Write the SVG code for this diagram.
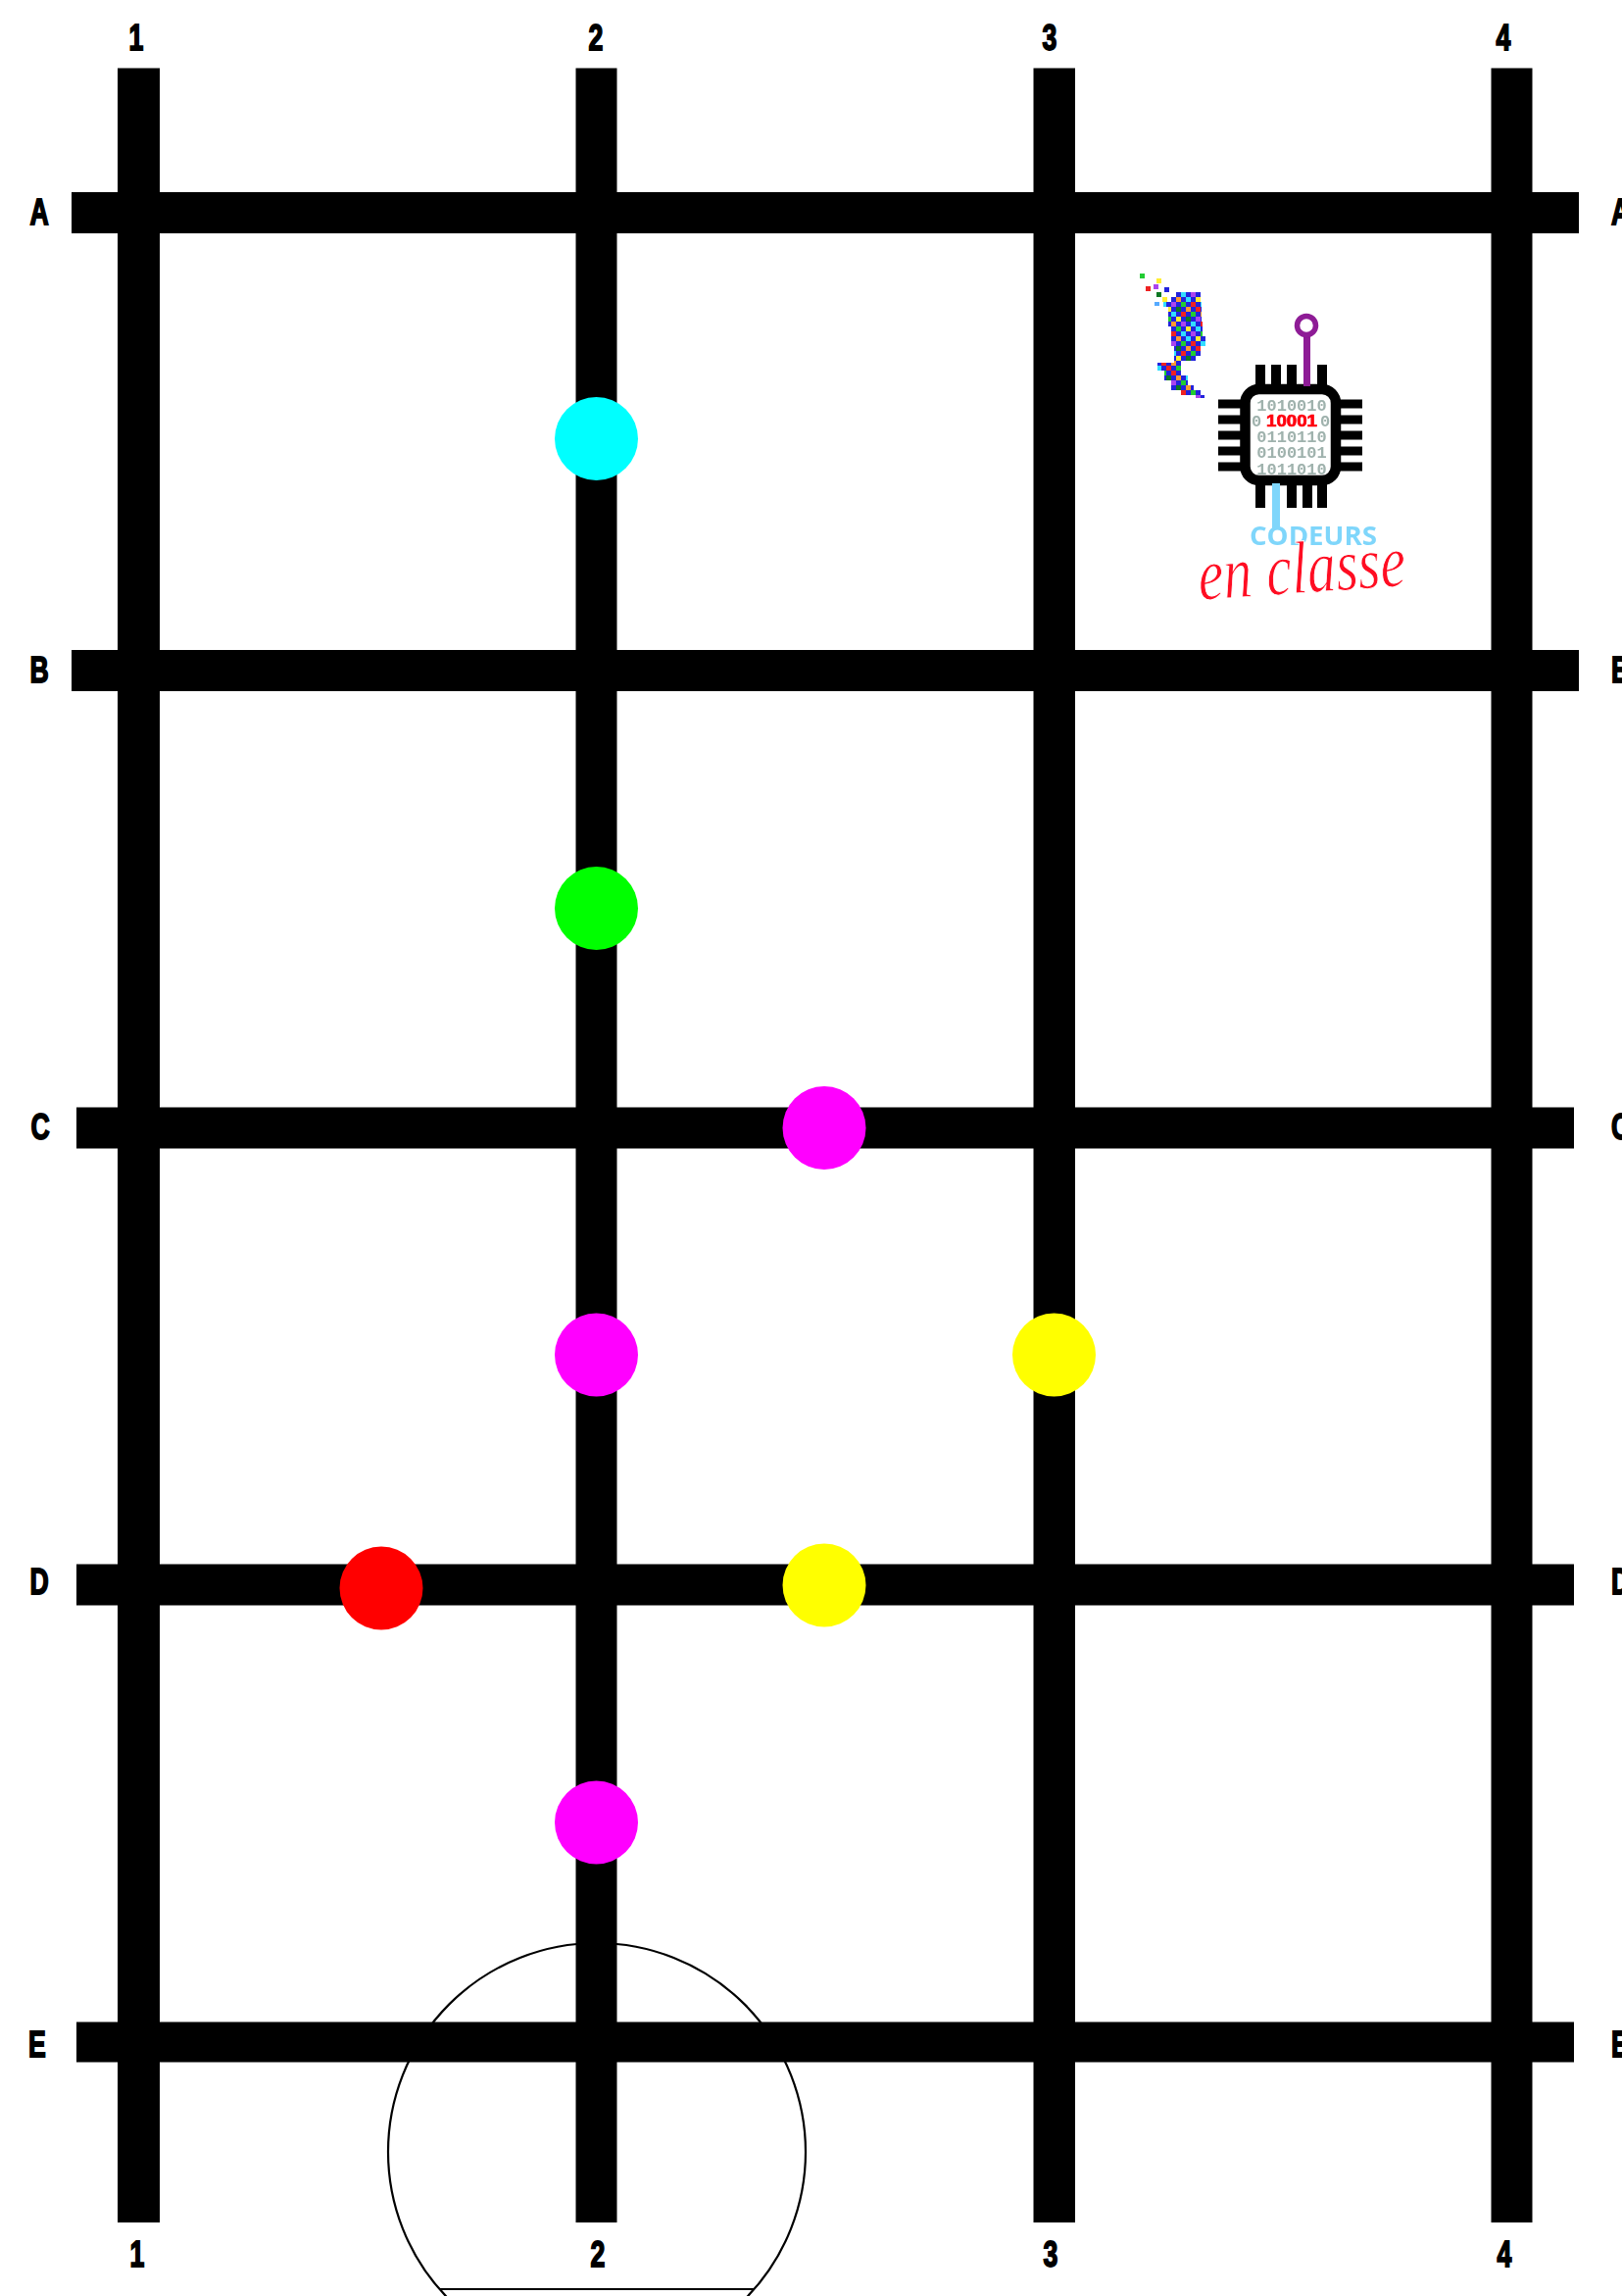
<svg xmlns="http://www.w3.org/2000/svg" width="1655" height="2342" viewBox="0 0 1655 2342">
<style>
.bar{fill:#000}
.lb{font-family:"Liberation Sans",Arial,sans-serif;font-weight:700;font-size:37px;fill:#000;stroke:#000;stroke-width:1.8;text-anchor:middle}
.lr{text-anchor:start}
.dot{stroke:none}
.pin{fill:#000}
.bin{font-family:"Liberation Mono",monospace;font-size:17px;font-weight:700;fill:#9fb2ad;text-anchor:middle}
</style>
<defs>
<filter id="soft" x="-5%" y="-5%" width="110%" height="110%"><feGaussianBlur stdDeviation="0.7"/></filter>
<pattern id="confetti" width="40" height="40" patternUnits="userSpaceOnUse" patternTransform="translate(1180 298)">
<rect width="40" height="40" fill="#2222dd"/>
<g>
<rect x="5" y="0" width="5" height="5" fill="#22cc33"/><rect x="15" y="0" width="5" height="5" fill="#ee2222"/><rect x="25" y="0" width="5" height="5" fill="#33ddff"/><rect x="35" y="0" width="5" height="5" fill="#aa44ee"/>
<rect x="0" y="5" width="5" height="5" fill="#ffee33"/><rect x="10" y="5" width="5" height="5" fill="#117722"/><rect x="20" y="5" width="5" height="5" fill="#ff9933"/><rect x="30" y="5" width="5" height="5" fill="#33ddff"/>
<rect x="5" y="10" width="5" height="5" fill="#33ddff"/><rect x="15" y="10" width="5" height="5" fill="#aa44ee"/><rect x="25" y="10" width="5" height="5" fill="#22cc33"/><rect x="35" y="10" width="5" height="5" fill="#ee2222"/>
<rect x="0" y="15" width="5" height="5" fill="#ee2222"/><rect x="10" y="15" width="5" height="5" fill="#ffee33"/><rect x="20" y="15" width="5" height="5" fill="#117722"/><rect x="30" y="15" width="5" height="5" fill="#ff9933"/>
<rect x="5" y="20" width="5" height="5" fill="#ff9933"/><rect x="15" y="20" width="5" height="5" fill="#33ddff"/><rect x="25" y="20" width="5" height="5" fill="#ee2222"/><rect x="35" y="20" width="5" height="5" fill="#22cc33"/>
<rect x="0" y="25" width="5" height="5" fill="#aa44ee"/><rect x="10" y="25" width="5" height="5" fill="#22cc33"/><rect x="20" y="25" width="5" height="5" fill="#ffee33"/><rect x="30" y="25" width="5" height="5" fill="#117722"/>
<rect x="5" y="30" width="5" height="5" fill="#ee2222"/><rect x="15" y="30" width="5" height="5" fill="#ff9933"/><rect x="25" y="30" width="5" height="5" fill="#aa44ee"/><rect x="35" y="30" width="5" height="5" fill="#33ddff"/>
<rect x="0" y="35" width="5" height="5" fill="#33ddff"/><rect x="10" y="35" width="5" height="5" fill="#ee2222"/><rect x="20" y="35" width="5" height="5" fill="#22cc33"/><rect x="30" y="35" width="5" height="5" fill="#ffee33"/>
</g>
</pattern>
</defs>
<rect width="1655" height="2342" fill="#fff"/>

<g id="start-zone" fill="none" stroke="#000" stroke-width="2.2">
<circle cx="609" cy="2195" r="213"/>
<line x1="449" y1="2335" x2="769" y2="2335"/>
</g>

<g id="grid">
<rect class="bar" x="120" y="69.5" width="43" height="2197.5"/>
<rect class="bar" x="587.5" y="69.5" width="42" height="2197.5"/>
<rect class="bar" x="1054.5" y="69.5" width="42.5" height="2197.5"/>
<rect class="bar" x="1521.5" y="69.5" width="42" height="2197.5"/>
<rect class="bar" x="73" y="196" width="1538" height="42"/>
<rect class="bar" x="73" y="663" width="1538" height="42"/>
<rect class="bar" x="78" y="1129.5" width="1528" height="42"/>
<rect class="bar" x="78" y="1595.5" width="1528" height="42"/>
<rect class="bar" x="78" y="2062.5" width="1528" height="41"/>
</g>

<g id="labels">
<text class="lb" transform="translate(139 51) scale(.72 1)">1</text>
<text class="lb" transform="translate(608 51) scale(.72 1)">2</text>
<text class="lb" transform="translate(1071 51) scale(.72 1)">3</text>
<text class="lb" transform="translate(1534 51) scale(.72 1)">4</text>
<text class="lb" transform="translate(140 2312) scale(.72 1)">1</text>
<text class="lb" transform="translate(610 2312) scale(.72 1)">2</text>
<text class="lb" transform="translate(1072 2312) scale(.72 1)">3</text>
<text class="lb" transform="translate(1535 2312) scale(.72 1)">4</text>
<text class="lb" transform="translate(40 229) scale(.72 1)">A</text>
<text class="lb" transform="translate(40 696) scale(.72 1)">B</text>
<text class="lb" transform="translate(41 1162) scale(.72 1)">C</text>
<text class="lb" transform="translate(40 1626) scale(.72 1)">D</text>
<text class="lb" transform="translate(38 2098) scale(.72 1)">E</text>
<text class="lb lr" transform="translate(1644 229) scale(.72 1)">A</text>
<text class="lb lr" transform="translate(1644 696) scale(.72 1)">B</text>
<text class="lb lr" transform="translate(1644 1162) scale(.72 1)">C</text>
<text class="lb lr" transform="translate(1644 1626) scale(.72 1)">D</text>
<text class="lb lr" transform="translate(1644 2098) scale(.72 1)">E</text>
</g>

<g id="dot-cyan"><circle class="dot" cx="608.5" cy="447.5" r="42.5" fill="#00ffff"/></g>
<g id="dot-green"><circle class="dot" cx="608.5" cy="926.5" r="42.5" fill="#00ff00"/></g>
<g id="dot-magenta-1"><circle class="dot" cx="841" cy="1150.5" r="42.5" fill="#ff00ff"/></g>
<g id="dot-magenta-2"><circle class="dot" cx="608.5" cy="1382" r="42.5" fill="#ff00ff"/></g>
<g id="dot-yellow-1"><circle class="dot" cx="1075.5" cy="1382" r="42.5" fill="#ffff00"/></g>
<g id="dot-red"><circle class="dot" cx="389" cy="1620" r="42.5" fill="#ff0000"/></g>
<g id="dot-yellow-2"><circle class="dot" cx="841" cy="1617" r="42.5" fill="#ffff00"/></g>
<g id="dot-magenta-3"><circle class="dot" cx="608.5" cy="1859" r="42.5" fill="#ff00ff"/></g>

<g id="logo" filter="url(#soft)">
<g id="logo-confetti">
<polygon points="1200,298 1225,298 1225,308 1226,308 1226,328 1227,328 1227,343 1230,343 1230,353 1225,353 1225,363 1220,363 1220,368 1205,368 1205,383 1212,383 1212,393 1218,393 1218,398 1225,398 1225,403 1229,403 1229,406 1220,406 1220,403 1205,403 1205,398 1195,398 1195,388 1188,388 1188,378 1181,378 1181,370 1198,370 1198,353 1195,353 1195,333 1192,333 1192,313 1187,313 1187,308 1195,308 1195,303 1200,303" fill="url(#confetti)"/>
<rect x="1163" y="279" width="5" height="5" fill="#22cc33"/><rect x="1180" y="284" width="5" height="5" fill="#ffee33"/><rect x="1169" y="292" width="5" height="5" fill="#ee2222"/><rect x="1177" y="290" width="5" height="5" fill="#aa44ee"/><rect x="1188" y="293" width="5" height="5" fill="#2222dd"/><rect x="1180" y="298" width="5" height="5" fill="#117722"/><rect x="1186" y="303" width="5" height="5" fill="#ffee33"/><rect x="1178" y="308" width="5" height="4" fill="#55aaff"/>
</g>
<g id="logo-chip">
<rect x="1270.5" y="397" width="92.5" height="93" rx="14" fill="#fff" stroke="#000" stroke-width="10.5"/>
<rect class="pin" x="1281" y="372" width="10" height="22"/><rect class="pin" x="1297" y="372" width="10" height="22"/><rect class="pin" x="1313" y="372" width="10" height="22"/><rect class="pin" x="1344" y="372" width="10" height="22"/>
<rect class="pin" x="1281" y="493" width="10" height="25"/><rect class="pin" x="1313" y="493" width="10" height="25"/><rect class="pin" x="1329" y="493" width="10" height="25"/><rect class="pin" x="1344" y="493" width="10" height="25"/>
<rect class="pin" x="1243" y="407.5" width="24" height="9"/><rect class="pin" x="1243" y="423.5" width="24" height="9"/><rect class="pin" x="1243" y="439.5" width="24" height="9"/><rect class="pin" x="1243" y="455.5" width="24" height="9"/><rect class="pin" x="1243" y="471.5" width="24" height="9"/>
<rect class="pin" x="1366" y="407.5" width="24" height="9"/><rect class="pin" x="1366" y="423.5" width="24" height="9"/><rect class="pin" x="1366" y="439.5" width="24" height="9"/><rect class="pin" x="1366" y="455.5" width="24" height="9"/><rect class="pin" x="1366" y="471.5" width="24" height="9"/>
<rect x="1330" y="338" width="7" height="56" fill="#8e1a96"/>
<circle cx="1333" cy="332" r="9.5" fill="#fff" stroke="#8e1a96" stroke-width="5.5"/>
<rect x="1298" y="493" width="8" height="46" fill="#7fd6fb"/>
<text class="bin" x="1318" y="419">1010010</text>
<text class="bin" x="1282" y="435">0</text>
<text class="bin" x="1352" y="435">0</text>
<text class="bin" x="1318" y="435" textLength="52" lengthAdjust="spacingAndGlyphs" style="fill:#ff0010;stroke:#ff0010;stroke-width:0.7;font-family:'Liberation Sans',sans-serif">10001</text>
<text class="bin" x="1318" y="451">0110110</text>
<text class="bin" x="1318" y="467">0100101</text>
<text class="bin" x="1318" y="484">1011010</text>
</g>
<text id="logo-codeurs" x="1275" y="556" textLength="130" lengthAdjust="spacingAndGlyphs" style="font-family:'Open Sans',sans-serif;font-weight:700;font-size:26px;fill:#7fd6fb">CODEURS</text>
<text id="logo-enclasse" transform="translate(1224 612) rotate(-4)" textLength="212" lengthAdjust="spacingAndGlyphs" style="font-family:'Liberation Serif',serif;font-style:italic;font-size:76px;fill:#ff0a20;stroke:#fff;stroke-width:1">en classe</text>
</g>
</svg>
